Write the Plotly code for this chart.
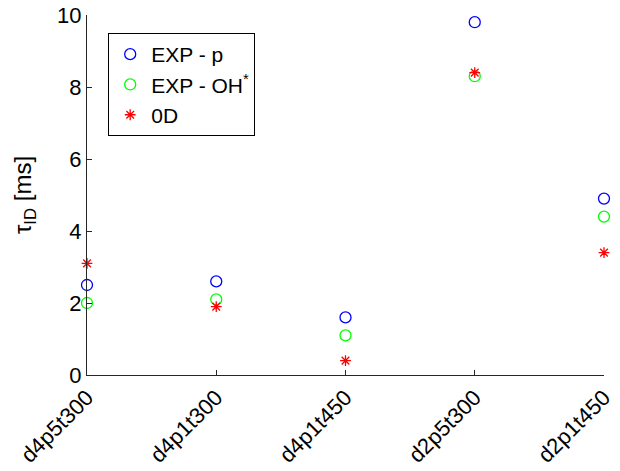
import plotly.graph_objects as go

categories = ["d4p5t300", "d4p1t300", "d4p1t450", "d2p5t300", "d2p1t450"]
exp_p = [2.5, 2.6, 1.6, 9.8, 4.9]
exp_oh = [2.0, 2.1, 1.1, 8.3, 4.4]
zero_d = [3.1, 1.9, 0.4, 8.4, 3.4]
yticks = [0, 2, 4, 6, 8, 10]

xpos = list(range(len(categories)))
FONT = "Liberation Sans, Arial, Helvetica, sans-serif"
AX = "#262626"

fig = go.Figure()
fig.add_trace(go.Scatter(x=xpos, y=exp_p, mode="markers", name="EXP - p",
                         marker=dict(symbol="circle-open", size=11, color="#0000ff", line=dict(width=1.3)),
                         cliponaxis=False))
fig.add_trace(go.Scatter(x=xpos, y=exp_oh, mode="markers", name="EXP - OH<sup>*</sup>",
                         marker=dict(symbol="circle-open", size=11, color="#00ff00", line=dict(width=1.3)),
                         cliponaxis=False))
fig.add_trace(go.Scatter(x=xpos, y=zero_d, mode="markers", name="0D",
                         marker=dict(symbol="asterisk-open", size=9, color="#ff0000", line=dict(width=1.3, color="#ff0000")),
                         cliponaxis=False))

fig.update_layout(
    width=620, height=471,
    margin=dict(l=87, r=16, t=15, b=96),
    paper_bgcolor="white", plot_bgcolor="white",
    font=dict(family=FONT, size=20, color="black"),
    showlegend=True,
    legend=dict(x=0.041, y=0.95, xanchor="left", yanchor="top",
                bordercolor="black", borderwidth=1, bgcolor="white",
                font=dict(size=21, family=FONT), itemwidth=32,
                tracegroupgap=0),
    xaxis=dict(range=[0, 4], tickmode="array", tickvals=xpos, ticktext=categories,
               tickangle=-45, ticks="inside", ticklen=5, tickcolor=AX, automargin=False,
               showline=True, linecolor=AX, linewidth=1, showgrid=False, zeroline=False,
               tickfont=dict(size=22, family=FONT)),
    yaxis=dict(range=[0, 10], tickmode="array", tickvals=yticks, automargin=False,
               ticks="inside", ticklen=5, tickcolor=AX,
               showline=True, linecolor=AX, linewidth=1, showgrid=False, zeroline=False,
               tickfont=dict(size=22, family=FONT),
               title=dict(text="τ<sub>ID</sub> [ms]", font=dict(size=24, family=FONT), standoff=18)),
)

fig.write_html("out.html")
